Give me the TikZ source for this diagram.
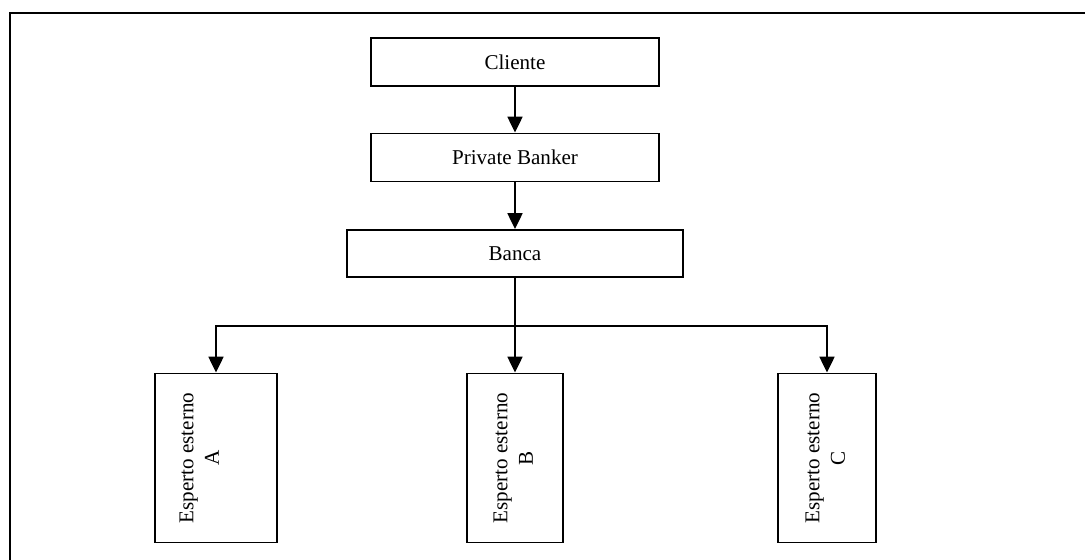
\documentclass[tikz,border=0pt]{standalone}
\usepackage{fontspec}
\setmainfont{Liberation Serif}
\usetikzlibrary{arrows.meta}

\begin{document}
\begin{tikzpicture}[
        every node/.style={
            draw,
            line width=1.1pt,
            minimum width=5.76cm,
            minimum height=0.96cm,
            align=center,
            font=\fontsize{12pt}{14.5pt}\selectfont
        },
        esperto/.style={minimum height=3.38cm},
        line/.style={-{Triangle[length=9pt,width=8.5pt]}, line width=1.1pt}
    ]
        \useasboundingbox (0,0) rectangle (21.7,-11.2);

        % rámeček
        \draw[line width=1.1pt] (0.2,-11.3) -- (0.2,-0.26) -- (21.8,-0.26);

        % 1. úroveň
        \node (cliente) at (10.3,-1.24) {Cliente};

        % 2. úroveň
        \node (banker) at (10.3,-3.15) {Private Banker};

        % 3. úroveň
        \node[minimum width=6.72cm, minimum height=0.94cm] (banca) at (10.3,-5.07) {Banca};
        \coordinate (split) at (10.3,-6.52);

        % 4. úroveň
        \node[esperto, minimum width=2.44cm] (espA) at (4.32,-9.16)
            {\rotatebox{90}{\begin{tabular}{@{}c@{}}Esperto esterno\\A\end{tabular}}\hspace{0.6cm}};
        \node[esperto, minimum width=1.92cm] (espB) at (10.3,-9.16)
            {\rotatebox{90}{\begin{tabular}{@{}c@{}}Esperto esterno\\B\end{tabular}}};
        \node[esperto, minimum width=1.96cm] (espC) at (16.54,-9.16)
            {\rotatebox{90}{\begin{tabular}{@{}c@{}}Esperto esterno\\C\end{tabular}}};

        % spojnice
        \draw[line] (cliente) -- (banker);
        \draw[line] (banker) -- (banca);

        \draw[line] (banca) -- (espB);
        \draw[line] (split) -| (espA);
        \draw[line] (split) -| (espC);

    \end{tikzpicture}
\end{document}
